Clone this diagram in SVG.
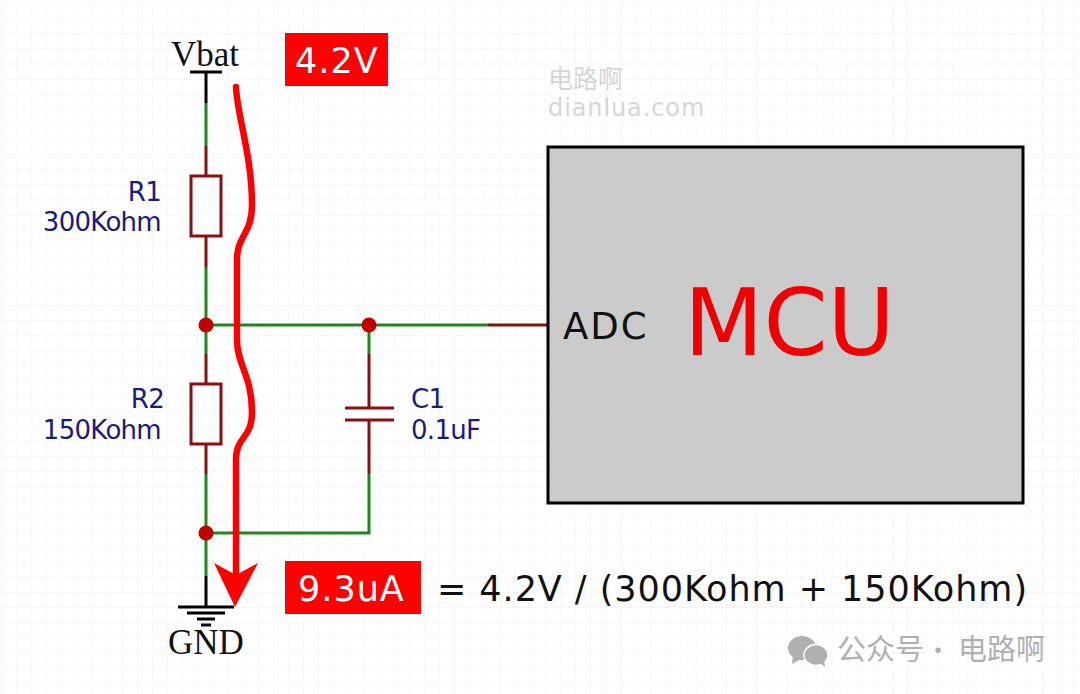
<svg xmlns="http://www.w3.org/2000/svg" width="1080" height="694" viewBox="0 0 1080 694">
<style>
.w{fill:none;stroke:#1c871c;stroke-width:3}
.p{fill:none;stroke:#8a1010;stroke-width:3}
.k{fill:none;stroke:#000;stroke-width:3}
.lab{font-family:"DejaVu Sans",sans-serif;font-size:26px;fill:#1a1a80;letter-spacing:-.7px}
.pw{font-family:"Liberation Serif",serif;font-size:35px;fill:#111}
.tag{font-family:"DejaVu Sans",sans-serif;font-size:35px;fill:#fff;letter-spacing:1px}
.wm{font-family:"DejaVu Sans","Noto Sans CJK SC",sans-serif;fill:#d6d6d6}
.gm{font-family:"Noto Sans CJK SC",sans-serif;fill:#b0b0b0}
</style>
<defs>
<pattern id="g" width="15.1" height="15.1" patternUnits="userSpaceOnUse" x="2" y="4"><path d="M15.1 0V15.1M0 15.1H15.1" fill="none" stroke="#eeeeee" stroke-width="1"/></pattern>
</defs>
<rect width="1080" height="694" fill="#fff"/>
<rect width="1080" height="694" fill="url(#g)"/>
<g id="connectors">
<path class="k" d="M206 72V103"/>
<path class="w" d="M206 103V146M206 267V354M206 474V576M206 325H488M369 325V354M369 474V533H206"/>
<path class="p" d="M488 325H548"/>
</g>
<g id="vbat"><path class="k" d="M190 72H222"/><text class="pw" x="171" y="66">Vbat</text></g>
<g id="r1"><path class="p" d="M206 146V176M206 236V267"/><rect class="p" x="191" y="176" width="30" height="60"/>
<text class="lab" x="161" y="201" text-anchor="end">R1</text><text class="lab" x="161" y="231" text-anchor="end">300Kohm</text></g>
<g id="r2"><path class="p" d="M206 354V384M206 444V474"/><rect class="p" x="191" y="384" width="30" height="60"/>
<text class="lab" x="164" y="408" text-anchor="end">R2</text><text class="lab" x="161" y="439" text-anchor="end">150Kohm</text></g>
<g id="c1"><path class="p" d="M369 354V408M345 408H394M345 420H394M369 420V474"/>
<text class="lab" x="411" y="408">C1</text><text class="lab" x="411" y="439">0.1uF</text></g>
<g id="j1"><circle cx="206" cy="325" r="7.5" fill="#c00000"/></g>
<g id="j2"><circle cx="369" cy="325" r="7.5" fill="#c00000"/></g>
<g id="j3"><circle cx="206" cy="533" r="7.5" fill="#c00000"/></g>
<g id="gnd"><path class="k" d="M206 576V606M178 607H234M187 613H225M197 619H215M201 625H211"/><text class="pw" x="168" y="654">GND</text></g>
<g id="mcu"><rect x="548" y="147" width="475" height="356" fill="#cbcbcb" stroke="#000" stroke-width="3"/>
<text x="563" y="339" font-family="DejaVu Sans,sans-serif" font-size="37" letter-spacing="2" fill="#111">ADC</text>
<text x="684" y="355" font-family="DejaVu Sans,sans-serif" font-size="92" fill="#f00000">MCU</text></g>
<g id="current"><path d="M236 87C237 115 252 155 252 205C252 235 237 235 237 260V340C237 365 252 375 252 412C252 440 236 435 236 460V572" fill="none" stroke="#f00" stroke-width="6.5" stroke-linecap="round"/>
<path d="M214 563L236 575L258 563L235 607Z" fill="#f00"/></g>
<g id="tag42"><rect x="285" y="33" width="103" height="53" fill="#f00"/><text class="tag" x="295" y="73">4.2V</text></g>
<g id="tag93"><rect x="285" y="561" width="136" height="53" fill="#f00"/><text class="tag" x="298" y="601">9.3uA</text></g>
<g id="formula"><text x="437" y="601" font-family="DejaVu Sans,sans-serif" font-size="35" letter-spacing=".95" fill="#111">= 4.2V / (300Kohm + 150Kohm)</text></g>
<g id="wm1"><text class="wm" x="548" y="88" font-size="25">电路啊</text><text class="wm" x="548" y="116" font-size="24" letter-spacing=".9">dianlua.com</text></g>
<g id="wm2">
<ellipse cx="802" cy="648" rx="14" ry="12" fill="#b0b0b0"/><path d="M793 655L792 664L801 659Z" fill="#b0b0b0"/>
<ellipse cx="816" cy="655" rx="12" ry="10.5" fill="#b0b0b0" stroke="#fff" stroke-width="1.5"/><path d="M820 663L825 667L824 660Z" fill="#b0b0b0"/>
<text class="gm" x="837" y="660" font-size="29">公众号</text><text class="gm" x="925" y="660" font-size="26">·</text><text class="gm" x="958" y="660" font-size="29">电路啊</text></g>
</svg>
